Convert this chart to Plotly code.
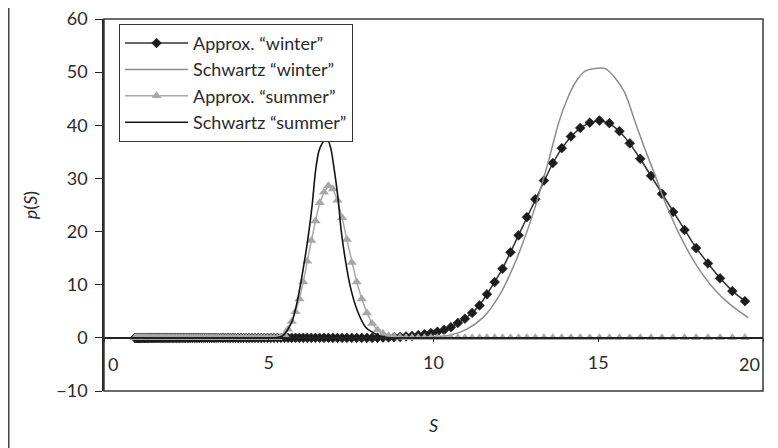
import plotly.graph_objects as go

# Shared S grid of the "Approx." series (marker positions)
s_grid = [
    0.940, 0.959, 0.978, 0.998, 1.017, 1.038, 1.059, 1.080, 1.101, 1.123,
    1.146, 1.169, 1.192, 1.216, 1.240, 1.265, 1.290, 1.316, 1.343, 1.369,
    1.397, 1.425, 1.453, 1.482, 1.512, 1.542, 1.573, 1.604, 1.637, 1.669,
    1.703, 1.737, 1.771, 1.807, 1.843, 1.880, 1.917, 1.956, 1.995, 2.035,
    2.075, 2.117, 2.159, 2.203, 2.247, 2.292, 2.337, 2.384, 2.432, 2.480,
    2.530, 2.581, 2.632, 2.685, 2.739, 2.793, 2.849, 2.906, 2.964, 3.024,
    3.084, 3.146, 3.209, 3.273, 3.338, 3.405, 3.473, 3.543, 3.614, 3.686,
    3.760, 3.835, 3.911, 3.990, 4.069, 4.151, 4.234, 4.318, 4.405, 4.493,
    4.583, 4.674, 4.768, 4.863, 4.960, 5.060, 5.161, 5.264, 5.369, 5.477,
    5.586, 5.698, 5.812, 5.928, 6.047, 6.168, 6.291, 6.417, 6.545, 6.676,
    6.810, 6.946, 7.085, 7.227, 7.371, 7.519, 7.669, 7.822, 7.979, 8.138,
    8.301, 8.467, 8.636, 8.809, 8.985, 9.165, 9.348, 9.535, 9.726, 9.921,
    10.119, 10.322, 10.528, 10.739, 10.953, 11.173, 11.396, 11.624, 11.856, 12.094,
    12.335, 12.582, 12.834, 13.090, 13.352, 13.619, 13.892, 14.170, 14.453, 14.742,
    15.037, 15.338, 15.644, 15.957, 16.276, 16.602, 16.934, 17.273, 17.618, 17.970,
    18.330, 18.696, 19.070, 19.451,
]

approx_winter = [
    0, 0, 0, 0, 0, 0, 0, 0, 0, 0,
    0, 0, 0, 0, 0, 0, 0, 0, 0, 0,
    0, 0, 0, 0, 0, 0, 0, 0, 0, 0,
    0, 0, 0, 0, 0, 0, 0, 0, 0, 0,
    0, 0, 0, 0, 0, 0, 0, 0, 0, 0,
    0, 0, 0, 0, 0, 0, 0, 0, 0, 0,
    0, 0, 0, 0, 0, 0, 0, 0, 0, 0,
    0, 0, 0, 0, 0, 0, 0, 0, 0, 0,
    0, 0, 0, 0, 0, 0, 0, 0, 0, 0,
    0, 0, 0, 0, 0, 0, 0, 0, 0, 0,
    0, 0, 0, 0, 0, 0, 0, 0, 0, 0,
    0.02, 0.05, 0.08, 0.12, 0.18, 0.26, 0.36, 0.50, 0.68, 0.90,
    1.15, 1.5, 2.0, 2.8, 3.6, 4.7, 6.1, 8.2, 10.5, 13.0,
    16.1, 19.3, 22.7, 26.1, 29.6, 32.9, 35.7, 37.9, 39.5, 40.5,
    40.9, 40.4, 38.9, 36.6, 33.7, 30.5, 27.1, 23.7, 20.3, 16.9,
    14.0, 11.2, 8.8, 6.9,
]

approx_summer = [
    0, 0, 0, 0, 0, 0, 0, 0, 0, 0,
    0, 0, 0, 0, 0, 0, 0, 0, 0, 0,
    0, 0, 0, 0, 0, 0, 0, 0, 0, 0,
    0, 0, 0, 0, 0, 0, 0, 0, 0, 0,
    0, 0, 0, 0, 0, 0, 0, 0, 0, 0,
    0, 0, 0, 0, 0, 0, 0, 0, 0, 0,
    0, 0, 0, 0, 0, 0, 0, 0, 0, 0,
    0, 0, 0, 0, 0, 0, 0, 0, 0, 0,
    0, 0, 0, 0, 0, 0, 0, 0, 0.2, 0.6,
    1.6, 3.1, 4.9, 7.3, 10.5, 14.4, 18.3, 22.0, 25.4, 27.4,
    28.6, 28.0, 25.9, 22.6, 18.5, 14.2, 10.5, 7.3, 4.7, 2.7,
    1.5, 0.8, 0.4, 0.2, 0.1, 0, 0, 0, 0, 0,
    0, 0, 0, 0, 0, 0, 0, 0, 0, 0,
    0, 0, 0, 0, 0, 0, 0, 0, 0, 0,
    0, 0, 0, 0, 0, 0, 0, 0, 0, 0,
    0, 0, 0, 0,
]

schwartz_winter_s = [9.0, 9.5, 10.0, 10.5, 11.0, 11.5, 12.0, 12.5, 13.0, 13.5, 13.8, 14.05,
                     14.3, 14.6, 14.9, 15.2, 15.5, 15.8, 16.1, 16.4, 16.7, 17.0, 17.5,
                     18.0, 18.5, 19.0, 19.55]
schwartz_winter_p = [0.0, 0.1, 0.2, 0.5, 1.6, 3.8, 8.0, 14.5, 23.0, 33.5, 40.5, 44.8,
                     48.0, 50.2, 50.7, 50.7, 49.0, 46.2, 41.0, 35.8, 31.0, 26.0, 19.0,
                     13.5, 9.3, 6.3, 3.8]

schwartz_summer_s = [5.20, 5.40, 5.56, 5.72, 5.87, 6.07, 6.22, 6.32, 6.42, 6.52, 6.63, 6.76,
                     6.88, 6.98, 7.10, 7.20, 7.33, 7.48, 7.69, 7.94, 8.19, 8.40, 8.70]
schwartz_summer_p = [0.0, 0.3, 1.4, 3.3, 7.0, 13.9, 20.1, 25.1, 31.4, 35.1, 36.7, 37.7,
                     35.7, 32.0, 26.4, 20.1, 14.5, 9.5, 5.1, 2.0, 0.9, 0.3, 0.0]

names = ["Approx. \u201cwinter\u201d", "Schwartz \u201cwinter\u201d",
         "Approx. \u201csummer\u201d", "Schwartz \u201csummer\u201d"]

x_ticks = [0, 5, 10, 15, 20]
x_tick_text = ["", "5", "10", "15", ""]   # edge labels 0 and 20 are drawn inside the frame below
y_ticks = [-10, 0, 10, 20, 30, 40, 50, 60]

FONT = "Lato, 'Noto Sans', sans-serif"
FS = 18
TXT = "#2a2a2a"

fig = go.Figure()
fig.add_trace(go.Scatter(
    x=s_grid, y=approx_winter, name=names[0], mode="lines+markers",
    line=dict(color="#333333", width=1.5),
    marker=dict(symbol="diamond", size=7.5, color="#1c1c1c", line=dict(color="#1c1c1c", width=0.6)),
))
fig.add_trace(go.Scatter(
    x=schwartz_winter_s, y=schwartz_winter_p, name=names[1], mode="lines",
    line=dict(color="#8c8c8c", width=1.5, shape="spline", smoothing=0.8),
))
fig.add_trace(go.Scatter(
    x=s_grid, y=approx_summer, name=names[2], mode="lines+markers",
    line=dict(color="#a8a8a8", width=1.5),
    marker=dict(symbol="triangle-up", size=9, color="#a8a8a8"),
))
fig.add_trace(go.Scatter(
    x=schwartz_summer_s, y=schwartz_summer_p, name=names[3], mode="lines",
    line=dict(color="#141414", width=1.6, shape="spline", smoothing=0.8),
))

# the page has an 8px body margin, so the figure is sized/margined to compensate
fig.update_layout(
    width=770, height=440,
    margin=dict(l=96, r=15, t=11, b=57, autoexpand=False),
    paper_bgcolor="white", plot_bgcolor="white",
    font=dict(family=FONT, size=FS, color=TXT),
    showlegend=True,
    legend=dict(
        x=0.0228, y=0.987, xanchor="left", yanchor="top",
        bgcolor="white", bordercolor="#333333", borderwidth=1,
        font=dict(family=FONT, size=FS, color=TXT),
        itemwidth=63,
    ),
    xaxis=dict(
        range=[0, 20], tickvals=x_ticks, ticktext=x_tick_text,
        anchor="free", position=10 / 70, automargin=False,
        showline=True, linecolor="#222222", linewidth=1.5,
        ticks="outside", ticklen=3, tickcolor="#222222",
        ticklabelstandoff=6,
        showgrid=False, zeroline=False,
        tickfont=dict(family=FONT, size=FS, color=TXT),
    ),
    yaxis=dict(
        range=[-10, 60], tickvals=y_ticks, automargin=False,
        showline=True, linecolor="#222222", linewidth=1.5,
        ticks="outside", ticklen=7, tickcolor="#222222",
        ticklabelstandoff=4, ticklabeloverflow="allow",
        showgrid=False, zeroline=False,
        tickfont=dict(family=FONT, size=FS, color=TXT),
    ),
    shapes=[
        dict(type="rect", xref="paper", yref="paper", x0=0, x1=1, y0=0, y1=1,
             line=dict(color="#3a3a3a", width=1.5), layer="above"),
        dict(type="line", xref="paper", yref="paper", x0=-0.1445, x1=-0.1445, y0=-0.2, y1=1.05,
             line=dict(color="#444444", width=1.5)),
    ],
    annotations=[
        dict(text=str(x_ticks[0]), x=x_ticks[0], y=-5.0, xref="x", yref="y",
             showarrow=False, xanchor="left", yanchor="middle", xshift=2,
             font=dict(family=FONT, size=FS, color=TXT)),
        dict(text=str(x_ticks[-1]), x=x_ticks[-1], y=-5.0, xref="x", yref="y",
             showarrow=False, xanchor="right", yanchor="middle", xshift=-1,
             font=dict(family=FONT, size=FS, color=TXT)),
        dict(text="<i>S</i>", xref="paper", yref="paper", x=0.5, y=-0.091,
             showarrow=False, xanchor="center", yanchor="middle",
             font=dict(family=FONT, size=FS, color=TXT)),
        dict(text="<i>p</i>(<i>S</i>)", xref="paper", yref="paper", x=-0.112, y=0.5,
             showarrow=False, xanchor="center", yanchor="middle", textangle=-90,
             font=dict(family=FONT, size=FS, color=TXT)),
    ],
)

fig.write_html("out.html")
